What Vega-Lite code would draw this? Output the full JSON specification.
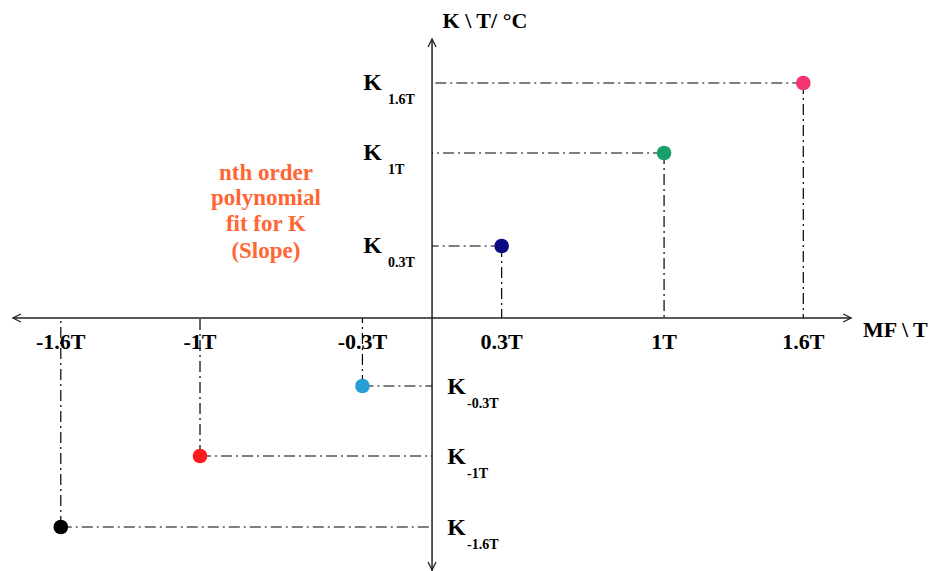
{
  "$schema": "https://vega.github.io/schema/vega-lite/v6.json",
  "width": 933,
  "height": 571,
  "autosize": {"type": "none"},
  "padding": 0,
  "background": "white",
  "config": {"view": {"stroke": null}, "text": {"font": "Liberation Serif", "fontWeight": "bold"}},
  "datasets": {
    "pts": [
      {"mf": 1.6, "k": 2.35, "label": "1.6T"},
      {"mf": 1.0, "k": 1.65, "label": "1T"},
      {"mf": 0.3, "k": 0.72, "label": "0.3T"},
      {"mf": -0.3, "k": -0.68, "label": "-0.3T"},
      {"mf": -1.0, "k": -1.38, "label": "-1T"},
      {"mf": -1.6, "k": -2.09, "label": "-1.6T"}
    ],
    "axes": [
      {"x1": -1.806, "x2": 1.806, "y1": 0, "y2": 0},
      {"x1": 0, "x2": 0, "y1": 2.79, "y2": -2.53}
    ],
    "arrows": [
      {"dir": "left", "mf": -1.789, "k": 0},
      {"dir": "right", "mf": 1.789, "k": 0},
      {"dir": "up", "mf": 0, "k": 2.75},
      {"dir": "down", "mf": 0, "k": -2.48}
    ],
    "notes": [
      {"t": "K \\ T/ °C", "mf": 0.228, "k": 2.97},
      {"t": "MF \\ T", "mf": 1.997, "k": -0.12}
    ],
    "fit": [
      {"t": "nth order", "mf": -0.716, "k": 1.45},
      {"t": "polynomial", "mf": -0.716, "k": 1.2},
      {"t": "fit for K", "mf": -0.716, "k": 0.94},
      {"t": "(Slope)", "mf": -0.716, "k": 0.67}
    ]
  },
  "layer": [
    {
      "data": {"name": "axes"},
      "mark": {"type": "rule", "stroke": "#222", "strokeWidth": 1.5},
      "encoding": {
        "x": {"field": "x1", "type": "quantitative", "scale": {"domain": [-1.862, 2.159], "nice": false, "zero": false}, "axis": null},
        "x2": {"field": "x2"},
        "y": {"field": "y1", "type": "quantitative", "scale": {"domain": [-2.53, 3.18], "nice": false, "zero": false}, "axis": null},
        "y2": {"field": "y2"}
      }
    },
    {
      "data": {"name": "arrows"},
      "mark": {"type": "point", "filled": false, "stroke": "#222", "strokeWidth": 1.3, "size": 64, "opacity": 1},
      "encoding": {
        "x": {"field": "mf", "type": "quantitative"},
        "y": {"field": "k", "type": "quantitative"},
        "shape": {"field": "dir", "type": "nominal", "legend": null,
          "scale": {"domain": ["left", "right", "up", "down"],
            "range": ["M 1 -1 L -1 0 L 1 1", "M -1 -1 L 1 0 L -1 1", "M -1 1 L 0 -1 L 1 1", "M -1 -1 L 0 1 L 1 -1"]}}
      }
    },
    {
      "data": {"name": "pts"},
      "mark": {"type": "rule", "stroke": "black", "strokeWidth": 1.2, "strokeDash": [11, 4, 2, 4]},
      "encoding": {
        "x": {"field": "mf", "type": "quantitative"},
        "x2": {"datum": 0},
        "y": {"field": "k", "type": "quantitative"}
      }
    },
    {
      "data": {"name": "pts"},
      "mark": {"type": "rule", "stroke": "black", "strokeWidth": 1.2, "strokeDash": [11, 4, 2, 4]},
      "encoding": {
        "x": {"field": "mf", "type": "quantitative"},
        "y": {"field": "k", "type": "quantitative"},
        "y2": {"datum": 0}
      }
    },
    {
      "data": {"name": "pts"},
      "mark": {"type": "point", "filled": true, "size": 215, "opacity": 1},
      "encoding": {
        "x": {"field": "mf", "type": "quantitative"},
        "y": {"field": "k", "type": "quantitative"},
        "color": {"field": "label", "type": "nominal", "legend": null,
          "scale": {"domain": ["1.6T", "1T", "0.3T", "-0.3T", "-1T", "-1.6T"],
            "range": ["#f5336e", "#17a06a", "#0a0a80", "#2a9fd6", "#ff1a22", "#000000"]}}
      }
    },
    {
      "data": {"name": "pts"},
      "mark": {"type": "text", "fontSize": 22, "align": "center", "baseline": "middle", "color": "black"},
      "encoding": {
        "x": {"field": "mf", "type": "quantitative"},
        "y": {"datum": -0.24},
        "text": {"field": "label"}
      }
    },
    {
      "data": {"name": "pts"},
      "transform": [{"filter": "datum.k > 0"}],
      "mark": {"type": "text", "fontSize": 24, "align": "left", "baseline": "middle", "color": "black"},
      "encoding": {
        "x": {"datum": -0.296},
        "y": {"field": "k", "type": "quantitative"},
        "text": {"value": "K"}
      }
    },
    {
      "data": {"name": "pts"},
      "transform": [{"filter": "datum.k > 0"}],
      "mark": {"type": "text", "fontSize": 14, "align": "left", "baseline": "alphabetic", "dy": 21, "color": "black"},
      "encoding": {
        "x": {"datum": -0.19},
        "y": {"field": "k", "type": "quantitative"},
        "text": {"field": "label"}
      }
    },
    {
      "data": {"name": "pts"},
      "transform": [{"filter": "datum.k < 0"}],
      "mark": {"type": "text", "fontSize": 24, "align": "left", "baseline": "middle", "dy": 1, "color": "black"},
      "encoding": {
        "x": {"datum": 0.065},
        "y": {"field": "k", "type": "quantitative"},
        "text": {"value": "K"}
      }
    },
    {
      "data": {"name": "pts"},
      "transform": [{"filter": "datum.k < 0"}],
      "mark": {"type": "text", "fontSize": 14, "align": "left", "baseline": "alphabetic", "dy": 22, "color": "black"},
      "encoding": {
        "x": {"datum": 0.151},
        "y": {"field": "k", "type": "quantitative"},
        "text": {"field": "label"}
      }
    },
    {
      "data": {"name": "notes"},
      "mark": {"type": "text", "fontSize": 22, "align": "center", "baseline": "middle", "color": "black"},
      "encoding": {
        "x": {"field": "mf", "type": "quantitative"},
        "y": {"field": "k", "type": "quantitative"},
        "text": {"field": "t"}
      }
    },
    {
      "data": {"name": "fit"},
      "mark": {"type": "text", "fontSize": 23, "align": "center", "baseline": "middle", "color": "#ff6633"},
      "encoding": {
        "x": {"field": "mf", "type": "quantitative"},
        "y": {"field": "k", "type": "quantitative"},
        "text": {"field": "t"}
      }
    }
  ]
}
